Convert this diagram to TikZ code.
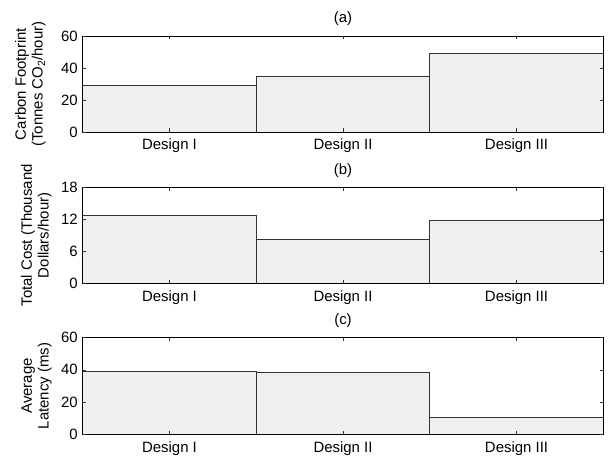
\documentclass[tikz,border=0pt]{standalone}
\usepackage{fontspec}
\setmainfont{Liberation Sans}
\usepackage{tikz}
\usetikzlibrary{calc}
\definecolor{barfill}{RGB}{240,240,240}
\begin{document}
\begin{tikzpicture}[x=1bp,y=-1bp,font=\fontsize{15}{17}\selectfont,
    bar/.style={fill=barfill,draw=black!80,line width=0.6pt},
    frame/.style={draw=black,line width=0.6pt},
    tick/.style={draw=black!80,line width=0.5pt}]
  \useasboundingbox (0,0) rectangle (611,457);
  \foreach \tg/\ytop/\ybot/\ymax/\ystep/\va/\vb/\vc/\xlab/\lab in{
      a/36/132/60/20/29/35/49/46/{Carbon Footprint\\(Tonnes CO\textsubscript{2}/hour)},
      b/187.3/283.3/18/6/12.8/8.2/11.9/52/{Total Cost (Thousand\\Dollars/hour)},
      c/337.5/434.3/60/20/39/38.5/10.3/52/{Average\\Latency (ms)}}{
    \pgfmathsetmacro\h{(\ybot-\ytop)/\ymax}
    \coordinate(\tg-sw)at(82.7,\ybot);
    \coordinate(\tg-ne)at(603.3,\ytop);
    % bars
    \foreach \i/\v in{1/\va,2/\vb,3/\vc}{
      \draw[bar]({82.7+(\i-1)*173.53},\ybot)rectangle({82.7+\i*173.53},{\ybot-\v*\h});
    }
    \draw[frame](\tg-sw)rectangle(\tg-ne);
    % x ticks and labels
    \foreach \i/\r in{1/I,2/II,3/III}{
      \draw[tick]({82.7+(\i-0.5)*173.53},\ybot)--++(0,-3.5)
        ({82.7+(\i-0.5)*173.53},\ytop)--++(0,3.5);
      \node[anchor=base](\tg-x\i)at({82.7+(\i-0.5)*173.53},{\ybot+18}){Design \r};
    }
    % y ticks and labels
    \foreach \k in{0,...,3}{
      \pgfmathtruncatemacro\val{\k*\ystep}
      \draw[tick](82.7,{\ybot-\k*\ystep*\h})--++(3.5,0)
        (603.3,{\ybot-\k*\ystep*\h})--++(-3.5,0);
      \node[anchor=east,inner sep=0pt](\tg-y\k)at(78,{\ybot-\k*\ystep*\h}){\val};
    }
    \node(\tg-title)at(343,{\ytop-17}){(\tg)};
    \node[rotate=90,anchor=south,inner sep=0pt,align=center](\tg-ylab)
      at(\xlab,{(\ytop+\ybot)/2}){\lab};
  }
\end{tikzpicture}
\end{document}
